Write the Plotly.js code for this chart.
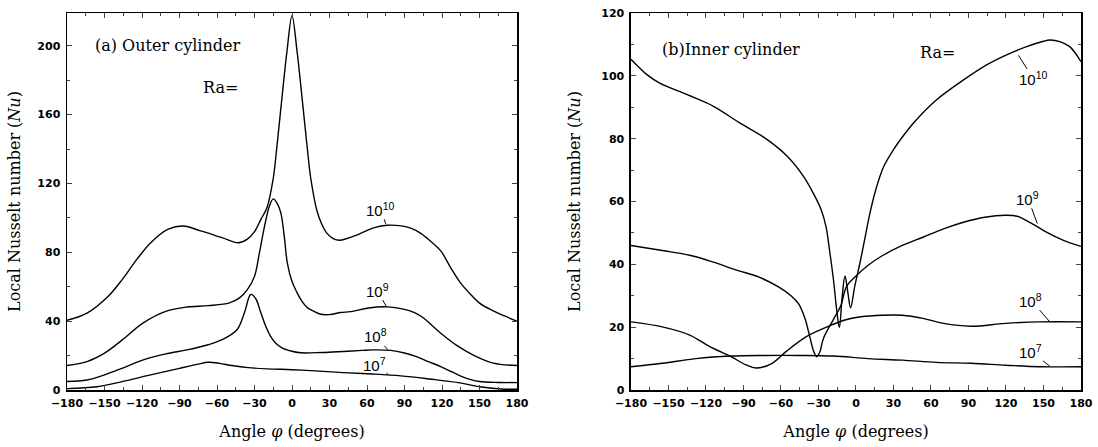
<!DOCTYPE html>
<html>
<head>
<meta charset="utf-8">
<script src="https://cdn.plot.ly/plotly-3.0.1.min.js"></script>
<style>html,body{margin:0;padding:0;background:#fff;}#chart{width:1098px;height:447px;}</style>
</head>
<body>
<div id="chart"></div>
<script>
// ---- (a) Outer cylinder ----
const outerAngle10 = [-180,-164,-147,-136,-124,-113,-99,-87,-73,-56,-43,-36,-30,-25,-20,-15,-12,-8,-4,0,4,8,12,15,20,24,28,33,38,44,50,58,66,76,86,95,103,110,119,127,134,141,150,161,170,180];
const outerNu10    = [40.5,44.7,54.5,64,76,85.6,93.4,95.3,92.4,88.5,85.5,87.5,92,99,106,123,142,170,197,217.5,197,170,142,123,104,96,91,88,87,88,89.5,92,94.3,95.7,95.5,94,91,87,80.8,71,63,57,50.5,46,43,40];
const outerAngle9  = [-180,-164,-150,-136,-119,-101,-84,-67,-50,-42,-36,-30,-26,-22,-18,-15,-12,-9,-6,-3.8,0,4,8,12,18,23,30,39,47,60,76,90,98,105,112,119,133,147,161,180];
const outerNu9     = [14.2,16.5,21.4,29,39,45.7,48.2,49,50.6,53.5,58,66,80,95,107,111,108.5,103,88,74,63,56.6,51.5,48,45.5,44,43.8,45,45.5,47.5,48.3,46.8,45,42,37.5,33,25.3,19.5,15.6,14.2];
const outerAngle8  = [-180,-164,-150,-136,-119,-101,-84,-67,-56,-44,-38,-33,-29,-25,-21,-17,-13,-8,-4,0,7,24,41,56,64,79,90,99,109,119,128,136,143,150,165,180];
const outerNu8     = [4.9,5.8,8.8,12.6,17.5,21,23.3,26.3,29.2,35,45,55.5,53,45,37,31,27.2,24.5,23.3,22.5,21.6,21.8,22.4,23,23.3,23,21.5,19.5,16.5,13.6,10.5,7.8,6,4.9,4.4,4.3];
const outerAngle7  = [-180,-156,-136,-113,-90,-75,-67,-58,-48,-35,-20,0,18.6,41,64,87,110,133,150,167,180];
const outerNu7     = [0.8,1.9,4.9,8.8,12.6,15,16.1,15.5,14.2,13,12.3,11.8,11.1,10.1,9.3,8.2,6.4,4.3,1.9,0.6,0.4];

// ---- (b) Inner cylinder ----
const innerAngle10 = [-180,-167,-157,-135,-114,-93,-71,-55,-42,-34,-28,-24,-21,-18,-15.5,-13.3,-11,-8.8,-6.5,-4.3,-1,3.2,7,11.2,16,22,30,38,46,64.5,86,104.5,120.5,136.5,150,155,163,171,180];
const innerNu10    = [105.3,100.3,97.7,94,90.3,85,79.7,74.4,68,62.5,57.5,52,44,35,25.7,19.9,30,36.3,31,26.2,33,40.5,48,56.4,64,71,76.5,81,85,92.4,98.7,103.5,106.7,109.3,111,111.4,110.9,109.3,104.5];
const innerAngle9  = [-180,-155,-133,-114,-95,-78,-62,-52,-46,-41,-37,-34,-31.5,-29,-26,-18,-12,-7.5,0,10,20,37,54,70,86,103,120,130,136,145,152,166,180];
const innerNu9     = [46,44.4,42.9,40.7,38.1,36,32.8,30,27.5,23,17,12.5,10.6,12,16.5,22.5,27,33,36.3,39.8,42.5,46,48.7,51.3,53.4,55,55.6,55.2,54,52,50.3,47.6,45.7];
const innerAngle8  = [-180,-155,-133,-117,-100,-88,-80,-67,-56,-40,-23,-9.6,4,20.6,37,53.6,70,92,119.5,147,180];
const innerNu8     = [21.7,20.1,17.5,13.8,10.6,8,7.0,8.5,12.2,16.9,20.1,22.2,23.3,23.8,23.8,22.8,21.2,20.3,21.2,21.7,21.7];
const innerAngle7  = [-180,-155,-128,-100,-73,-45,-18,9.6,37,64.6,92,119.5,147,180];
const innerNu7     = [7.4,8.5,10,10.8,11,11,10.8,10,9.5,8.8,8.5,7.9,7.4,7.4];

// curve labels
const raLabels = ['10<sup>10</sup>','10<sup>9</sup>','10<sup>8</sup>','10<sup>7</sup>'];
const outerLabelPos = [[71,105],[68,58],[67,31.5],[66,15]];
const outerLabelTip = [[75,96.5],[75.5,48.5],[76.5,23.5],[77,9]];
const innerLabelPos = [[142,99],[137.6,61],[140,28.6],[140,12.2]];
const innerLabelTip = [[130,106.5],[145,53],[155,21.7],[155,7.6]];

const serif = 'DejaVu Serif, Liberation Serif, serif';
const sans = 'Liberation Sans, Arial, sans-serif';
const line = {color:'black', width:1.4, shape:'spline', smoothing:1};

function tr(x,y,xa,ya){return {x:x,y:y,xaxis:xa,yaxis:ya,type:'scatter',mode:'lines',line:line,hoverinfo:'skip'};}
const data = [
  tr(outerAngle10,outerNu10,'x','y'), tr(outerAngle9,outerNu9,'x','y'),
  tr(outerAngle8,outerNu8,'x','y'), tr(outerAngle7,outerNu7,'x','y'),
  tr(innerAngle10,innerNu10,'x2','y2'), tr(innerAngle9,innerNu9,'x2','y2'),
  tr(innerAngle8,innerNu8,'x2','y2'), tr(innerAngle7,innerNu7,'x2','y2')
];

const tickfont = {family:'DejaVu Sans, sans-serif', size:11, weight:'bold', color:'black'};
function xax(dom, anchor){
  return {domain:dom, anchor:anchor, range:[-180,180], tick0:0, dtick:30, ticks:'inside', ticklen:5, tickwidth:1,
    minor:{dtick:15, ticks:'inside', ticklen:3, tickwidth:1},
    showline:true, linecolor:'black', linewidth:1.5, mirror:'allticks', showgrid:false, zeroline:false,
    tickfont:tickfont, ticklabelstandoff:2,
    title:{text:'Angle <i>φ</i> (degrees)', font:{family:serif, size:16, color:'black'}, standoff:17}};
}
function yax(dom, anchor, range, dt, mdt, standoff){
  return {domain:dom, anchor:anchor, range:range, tick0:0, dtick:dt, ticks:'inside', ticklen:5, tickwidth:1,
    minor:{dtick:mdt, ticks:'inside', ticklen:3, tickwidth:1},
    showline:true, linecolor:'black', linewidth:1.5, mirror:'allticks', showgrid:false, zeroline:false,
    tickfont:tickfont, ticklabelstandoff:3,
    title:{text:'Local Nusselt number (<i>Nu</i>)', font:{family:serif, size:16, color:'black'}, standoff:standoff}};
}

const annotations = [
  {xref:'x', yref:'y', x:-159, y:200, xanchor:'left', yanchor:'middle', showarrow:false, text:'(a) Outer cylinder', font:{family:serif, size:16, color:'black'}},
  {xref:'x', yref:'y', x:-57, y:176, xanchor:'center', yanchor:'middle', showarrow:false, text:'Ra=', font:{family:serif, size:16, color:'black'}},
  {xref:'x2', yref:'y2', x:-157, y:108.5, xanchor:'left', yanchor:'middle', showarrow:false, text:'(b)Inner cylinder', font:{family:serif, size:16, color:'black'}},
  {xref:'x2', yref:'y2', x:65, y:107.3, xanchor:'center', yanchor:'middle', showarrow:false, text:'Ra=', font:{family:serif, size:16, color:'black'}}
];
function addLabels(pos, tip, xr, yr){
  for (let i=0;i<raLabels.length;i++){
    annotations.push({xref:xr, yref:yr, axref:xr, ayref:yr, x:tip[i][0], y:tip[i][1], ax:pos[i][0], ay:pos[i][1],
      text:raLabels[i], showarrow:true, arrowhead:0, arrowwidth:1, arrowcolor:'black', standoff:0, startstandoff:0,
      borderpad:0, font:{family:sans, size:15, color:'black'}});
  }
}
addLabels(outerLabelPos, outerLabelTip, 'x', 'y');
addLabels(innerLabelPos, innerLabelTip, 'x2', 'y2');

const layout = {
  width:1098, height:447, margin:{l:67, r:17, t:13, b:57},
  paper_bgcolor:'white', plot_bgcolor:'white', showlegend:false,
  xaxis: xax([0, 0.4438], 'y'),
  yaxis: yax([0,1], 'x', [0,219], 40, 20, 12),
  xaxis2: xax([0.5562, 1], 'y2'),
  yaxis2: yax([0,1], 'x2', [0,120], 20, 10, 16),
  annotations: annotations
};
Plotly.newPlot('chart', data, layout, {displayModeBar:false, staticPlot:true});
</script>
</body>
</html>
